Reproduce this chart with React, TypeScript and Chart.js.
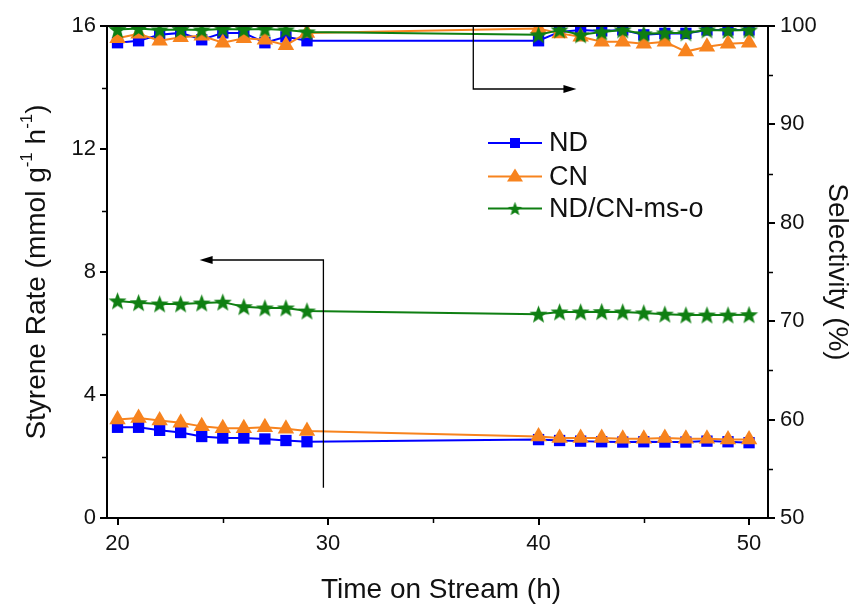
import React, { useEffect, useRef } from 'react';
import { Chart, registerables } from 'chart.js';

Chart.register(...registerables);

// ---- Data ----
const hours = [20, 21, 22, 23, 24, 25, 26, 27, 28, 29, 40, 41, 42, 43, 44, 45, 46, 47, 48, 49, 50];

const ndRate = [2.95, 2.95, 2.85, 2.78, 2.65, 2.6, 2.6, 2.57, 2.52, 2.48, 2.55, 2.52, 2.5, 2.48, 2.47, 2.48, 2.47, 2.47, 2.5, 2.48, 2.45];
const cnRate = [3.2, 3.25, 3.17, 3.1, 2.98, 2.92, 2.92, 2.95, 2.9, 2.83, 2.65, 2.6, 2.6, 2.6, 2.58, 2.58, 2.6, 2.58, 2.58, 2.55, 2.55];
const ndcnRate = [7.06, 7.0, 6.96, 6.96, 6.99, 7.02, 6.87, 6.83, 6.83, 6.73, 6.63, 6.7, 6.7, 6.71, 6.7, 6.67, 6.63, 6.6, 6.6, 6.6, 6.61];

const ndSel = [98.3, 98.5, 99.1, 99.3, 98.6, 99.3, 99.3, 98.3, 98.9, 98.5, 98.5, 99.4, 99.6, 99.5, 99.6, 99.1, 99.25, 99.25, 99.6, 99.6, 99.6];
const cnSel = [98.75, 99.2, 98.5, 98.85, 99.0, 98.3, 98.75, 98.6, 98.05, 99.3, 99.75, 99.25, 98.9, 98.4, 98.4, 98.2, 98.4, 97.4, 97.9, 98.2, 98.3];
const ndcnSel = [99.65, 99.75, 99.6, 99.65, 99.6, 99.7, 99.65, 99.7, 99.6, 99.4, 99.1, 99.6, 99.1, 99.4, 99.6, 99.2, 99.3, 99.3, 99.6, 99.55, 99.6];

const xTicks = [20, 30, 40, 50];
const xMinor = [25, 35, 45];
const yTicks = [0, 4, 8, 12, 16];
const yMinor = [2, 6, 10, 14];
const y1Ticks = [50, 60, 70, 80, 90, 100];
const y1Minor = [55, 65, 75, 85, 95];

const seriesNames = ['ND', 'CN', 'ND/CN-ms-o'];

const BLUE = '#0000FF';
const ORANGE = '#F7831E';
const GREEN = '#0F7F12';
const FONT = '"Liberation Sans", Arial, sans-serif';

function makeStar(r: number, color: string) {
  const size = Math.ceil(r * 2 + 2);
  const c = document.createElement('canvas');
  c.width = size;
  c.height = size;
  const ctx = c.getContext('2d')!;
  ctx.fillStyle = color;
  ctx.beginPath();
  for (let i = 0; i < 10; i++) {
    const rad = i % 2 === 0 ? r : r * 0.42;
    const a = -Math.PI / 2 + (i * Math.PI) / 5;
    const x = size / 2 + rad * Math.cos(a);
    const y = size / 2 + 0.8 + rad * Math.sin(a);
    if (i === 0) ctx.moveTo(x, y);
    else ctx.lineTo(x, y);
  }
  ctx.closePath();
  ctx.fill();
  return c;
}

function pts(ys: number[]) {
  return hours.map((t, i) => ({ x: t, y: ys[i] }));
}

export default function App() {
  const ref = useRef<HTMLCanvasElement | null>(null);

  useEffect(() => {
    if (!ref.current) return;
    const star = makeStar(9.5, GREEN);
    const legendStar = makeStar(7.5, GREEN);

    const decor = {
      id: 'decor',
      afterDraw(chart: any) {
        const ctx = chart.ctx as CanvasRenderingContext2D;
        const { left, right, top, bottom } = chart.chartArea;
        const sx = chart.scales.x;
        const sy = chart.scales.y;
        const sy1 = chart.scales.y1;
        ctx.save();
        // top frame
        ctx.strokeStyle = '#000';
        ctx.lineWidth = 2;
        ctx.beginPath();
        ctx.moveTo(left - 1, top);
        ctx.lineTo(right + 1, top);
        ctx.stroke();
        // minor ticks
        ctx.lineWidth = 1.5;
        ctx.beginPath();
        xMinor.forEach((v) => {
          const px = Math.round(sx.getPixelForValue(v)) + 0.5;
          ctx.moveTo(px, bottom);
          ctx.lineTo(px, bottom + 5);
        });
        yMinor.forEach((v) => {
          const py = Math.round(sy.getPixelForValue(v)) + 0.5;
          ctx.moveTo(left, py);
          ctx.lineTo(left - 5, py);
        });
        y1Minor.forEach((v) => {
          const py = Math.round(sy1.getPixelForValue(v)) + 0.5;
          ctx.moveTo(right, py);
          ctx.lineTo(right + 5, py);
        });
        ctx.stroke();

        // arrows
        ctx.lineWidth = 1.3;
        ctx.strokeStyle = '#000';
        ctx.fillStyle = '#000';
        const arrowHead = (x: number, y: number, dir: number) => {
          ctx.beginPath();
          ctx.moveTo(x, y);
          ctx.lineTo(x - dir * 13, y - 4);
          ctx.lineTo(x - dir * 13, y + 4);
          ctx.closePath();
          ctx.fill();
        };
        // left arrow (points to rate axis)
        {
          const vx = sx.getPixelForValue(29.78);
          const yb = sy.getPixelForValue(0.98);
          const yt = sy.getPixelForValue(8.39);
          const tip = sx.getPixelForValue(23.9);
          ctx.beginPath();
          ctx.moveTo(vx, yb);
          ctx.lineTo(vx, yt);
          ctx.lineTo(tip + 10, yt);
          ctx.stroke();
          arrowHead(tip, yt, -1);
        }
        // right arrow (points to selectivity axis)
        {
          const vx = sx.getPixelForValue(36.9);
          const yt = sy1.getPixelForValue(100);
          const yb = sy1.getPixelForValue(93.6);
          const tip = sx.getPixelForValue(41.8);
          ctx.beginPath();
          ctx.moveTo(vx, yt);
          ctx.lineTo(vx, yb);
          ctx.lineTo(tip - 10, yb);
          ctx.stroke();
          arrowHead(tip, yb, 1);
        }

        // axis titles
        ctx.fillStyle = '#111';
        ctx.textBaseline = 'middle';
        const main = `28px ${FONT}`;
        const sup = `17px ${FONT}`;
        // left title with superscripts
        {
          const parts: [string, boolean][] = [
            ['Styrene Rate (mmol g', false],
            ['-1', true],
            [' h', false],
            ['-1', true],
            [')', false],
          ];
          let total = 0;
          const widths = parts.map(([t, s]) => {
            ctx.font = s ? sup : main;
            const w = ctx.measureText(t).width;
            total += w;
            return w;
          });
          ctx.save();
          ctx.translate(37, (top + bottom) / 2);
          ctx.rotate(-Math.PI / 2);
          ctx.textAlign = 'left';
          let cx = -total / 2;
          parts.forEach(([t, s], i) => {
            ctx.font = s ? sup : main;
            ctx.fillText(t, cx, s ? -10 : 0);
            cx += widths[i];
          });
          ctx.restore();
        }
        // right title
        ctx.save();
        ctx.font = main;
        ctx.textAlign = 'center';
        ctx.translate(837, (top + bottom) / 2);
        ctx.rotate(Math.PI / 2);
        ctx.fillText('Selectivity (%)', 0, 0);
        ctx.restore();
        // x title
        ctx.font = main;
        ctx.textAlign = 'center';
        ctx.fillText('Time on Stream (h)', 441, 590);

        // legend
        const rows = [143, 176.5, 208.5];
        const colors = [BLUE, ORANGE, GREEN];
        const legendFont = `27px ${FONT}`;
        rows.forEach((ry, i) => {
          ctx.strokeStyle = colors[i];
          ctx.lineWidth = 2;
          ctx.beginPath();
          ctx.moveTo(488, ry);
          ctx.lineTo(542, ry);
          ctx.stroke();
          ctx.fillStyle = colors[i];
          if (i === 0) {
            ctx.fillRect(515 - 5, ry - 5, 10, 10);
          } else if (i === 1) {
            ctx.beginPath();
            ctx.moveTo(515, ry - 8);
            ctx.lineTo(523, ry + 5);
            ctx.lineTo(507, ry + 5);
            ctx.closePath();
            ctx.fill();
          } else {
            ctx.drawImage(legendStar, 515 - legendStar.width / 2, ry - legendStar.height / 2);
          }
          ctx.fillStyle = '#111';
          ctx.font = legendFont;
          ctx.textAlign = 'left';
          ctx.fillText(seriesNames[i], 549, ry + 1);
        });
        ctx.restore();
      },
    };

    const common = { borderWidth: 2, tension: 0, showLine: true, fill: false };
    const tickFont = { family: FONT, size: 22 };
    const gridOpts = { drawOnChartArea: false, drawTicks: true, tickLength: 7, color: '#000', lineWidth: 2 };
    const borderOpts = { display: true, color: '#000', width: 2 };

    const chart = new Chart(ref.current, {
      type: 'line',
      data: {
        datasets: [
          { ...common, label: 'ND rate', data: pts(ndRate), yAxisID: 'y', borderColor: BLUE, backgroundColor: BLUE, pointStyle: 'rect', pointRadius: 8, pointBorderWidth: 0, order: 5 },
          { ...common, label: 'ND sel', data: pts(ndSel), yAxisID: 'y1', borderColor: BLUE, backgroundColor: BLUE, pointStyle: 'rect', pointRadius: 8, pointBorderWidth: 0, order: 4 },
          { ...common, label: 'CN rate', data: pts(cnRate), yAxisID: 'y', borderColor: ORANGE, backgroundColor: ORANGE, pointStyle: 'triangle', pointRadius: 9.5, pointBorderWidth: 0, order: 3 },
          { ...common, label: 'CN sel', data: pts(cnSel), yAxisID: 'y1', borderColor: ORANGE, backgroundColor: ORANGE, pointStyle: 'triangle', pointRadius: 9.5, pointBorderWidth: 0, order: 2 },
          { ...common, label: 'ND/CN rate', data: pts(ndcnRate), yAxisID: 'y', borderColor: GREEN, backgroundColor: GREEN, pointStyle: star, pointRadius: 9, order: 1 },
          { ...common, label: 'ND/CN sel', data: pts(ndcnSel), yAxisID: 'y1', borderColor: GREEN, backgroundColor: GREEN, pointStyle: star, pointRadius: 9, order: 0 },
        ] as any,
      },
      options: {
        animation: false,
        responsive: false,
        maintainAspectRatio: false,
        layout: { padding: { top: 26, left: 0, right: 0, bottom: 0 } },
        plugins: { legend: { display: false }, tooltip: { enabled: false } },
        scales: {
          x: {
            type: 'linear',
            min: 19.5,
            max: 50.9,
            afterBuildTicks: (s: any) => { s.ticks = xTicks.map((v) => ({ value: v })); },
            afterFit: (s: any) => { s.height = 91; },
            ticks: { font: tickFont, color: '#111', padding: 6, maxRotation: 0, autoSkip: false },
            grid: gridOpts,
            border: borderOpts,
          },
          y: {
            type: 'linear',
            position: 'left',
            min: 0,
            max: 16,
            afterBuildTicks: (s: any) => { s.ticks = yTicks.map((v) => ({ value: v })); },
            afterFit: (s: any) => { s.width = 107; },
            ticks: { font: tickFont, color: '#111', padding: 4 },
            grid: gridOpts,
            border: borderOpts,
          },
          y1: {
            type: 'linear',
            position: 'right',
            min: 50,
            max: 100,
            afterBuildTicks: (s: any) => { s.ticks = y1Ticks.map((v) => ({ value: v })); },
            afterFit: (s: any) => { s.width = 84; },
            ticks: { font: tickFont, color: '#111', padding: 5 },
            grid: gridOpts,
            border: borderOpts,
          },
        },
      } as any,
      plugins: [decor],
    });
    return () => chart.destroy();
  }, []);

  return (
    <div style={{ position: 'fixed', left: 0, top: 0, width: 852, height: 609, background: '#fff' }}>
      <canvas ref={ref} width={852} height={609} style={{ display: 'block', width: 852, height: 609 }} />
    </div>
  );
}
